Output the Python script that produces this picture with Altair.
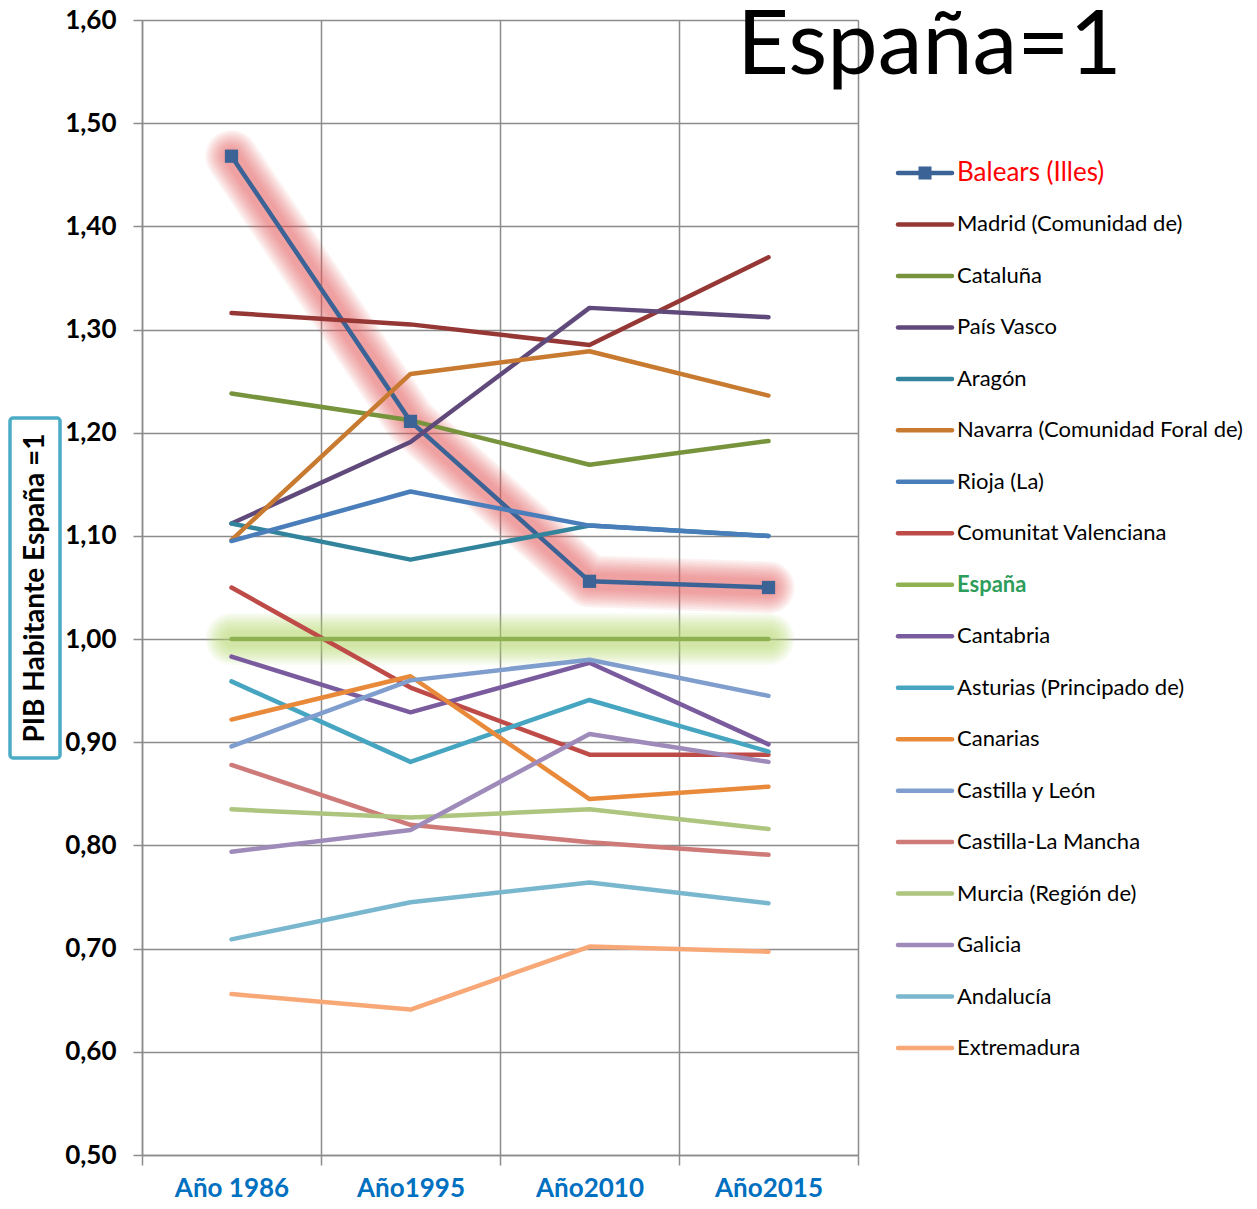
import altair as alt
import pandas as pd

years = ["Año 1986", "Año1995", "Año2010", "Año2015"]
regions = [
    "Balears (Illes)", "Madrid (Comunidad de)", "Cataluña", "País Vasco", "Aragón",
    "Navarra (Comunidad Foral de)", "Rioja (La)", "Comunitat Valenciana", "España",
    "Cantabria", "Asturias (Principado de)", "Canarias", "Castilla y León",
    "Castilla-La Mancha", "Murcia (Región de)", "Galicia", "Andalucía", "Extremadura",
]
colors = [
    "#3B6396", "#953735", "#77933C", "#5F4A7B", "#31849B",
    "#C77A30", "#4A7EBB", "#BE4B48", "#8FB152",
    "#7A5C9E", "#46A5C1", "#E98A3B", "#7F9ECD",
    "#CD7A78", "#ADC57E", "#9E8BBA", "#79B7CF", "#F8A877",
]

balears = [1.468, 1.211, 1.056, 1.050]
madrid = [1.316, 1.305, 1.285, 1.370]
cataluna = [1.238, 1.212, 1.169, 1.192]
pais_vasco = [1.112, 1.191, 1.321, 1.312]
aragon = [1.112, 1.077, 1.110, 1.100]
navarra = [1.096, 1.257, 1.279, 1.236]
rioja = [1.095, 1.143, 1.110, 1.100]
valenciana = [1.050, 0.953, 0.888, 0.888]
espana = [1.000, 1.000, 1.000, 1.000]
cantabria = [0.983, 0.929, 0.977, 0.898]
asturias = [0.959, 0.881, 0.941, 0.891]
canarias = [0.922, 0.964, 0.845, 0.857]
castilla_leon = [0.896, 0.960, 0.980, 0.945]
castilla_mancha = [0.878, 0.820, 0.803, 0.791]
murcia = [0.835, 0.827, 0.835, 0.816]
galicia = [0.794, 0.815, 0.908, 0.881]
andalucia = [0.709, 0.745, 0.764, 0.744]
extremadura = [0.656, 0.641, 0.702, 0.697]

series = [balears, madrid, cataluna, pais_vasco, aragon, navarra, rioja, valenciana,
          espana, cantabria, asturias, canarias, castilla_leon, castilla_mancha,
          murcia, galicia, andalucia, extremadura]

y_ticks = [0.5, 0.6, 0.7, 0.8, 0.9, 1.0, 1.1, 1.2, 1.3, 1.4, 1.5, 1.6]

rows = []
for r, vals in zip(regions, series):
    for i, (yr, v) in enumerate(zip(years, vals)):
        rows.append({"region": r, "year": yr, "idx": i, "value": v})
df = pd.DataFrame(rows)
leg_df = pd.DataFrame({"region": regions})

FONT = "Lato"
GRID = "#8C8C8C"

x_enc = alt.X(
    "year:N", sort=years,
    scale=alt.Scale(type="band", domain=years, paddingInner=0, paddingOuter=0),
    axis=alt.Axis(title=None, grid=True, tickBand="extent", labelAngle=0, labelFont=FONT,
                  labelFontWeight="bold", labelFontSize=26, labelColor="#0070C0",
                  labelPadding=10, tickSize=10, tickColor=GRID, domainColor=GRID,
                  gridColor=GRID, gridWidth=1.5, domainWidth=1.5, tickWidth=1.5),
)
y_scale = alt.Scale(domain=[0.5, 1.6], nice=False, zero=False)
y_enc = alt.Y(
    "value:Q", scale=y_scale,
    axis=alt.Axis(title=None, grid=True, values=y_ticks,
                  labelExpr="replace(format(datum.value, '.2f'), '.', ',')",
                  labelFont=FONT, labelFontWeight="bold", labelFontSize=26,
                  labelColor="black", labelPadding=17, tickSize=9, tickColor=GRID,
                  domainColor=GRID, gridColor=GRID, gridWidth=1.5, domainWidth=1.5,
                  tickWidth=1.5),
)
color_enc = alt.Color("region:N", scale=alt.Scale(domain=regions, range=colors), legend=None)

base = alt.Chart(df)

glows = []
for reg, col in [("Balears (Illes)", "#EB5858"), ("España", "#B3DE61")]:
    for w in [52, 48, 44, 40, 36, 32, 28, 24, 20, 16]:
        glows.append(
            base.transform_filter(alt.datum.region == reg)
            .mark_line(color=col, strokeWidth=w, opacity=0.08, strokeCap="round", strokeJoin="round")
            .encode(x=x_enc, y=y_enc, order="idx:Q")
        )

lines = base.mark_line(strokeWidth=4.5, strokeCap="round", strokeJoin="round").encode(
    x=x_enc, y=y_enc, color=color_enc, detail="region:N", order="idx:Q"
)
squares = base.transform_filter(alt.datum.region == "Balears (Illes)").mark_square(
    size=175, opacity=1, color="#3B6396"
).encode(x=x_enc, y=y_enc)

title_txt = alt.Chart(pd.DataFrame({"t": ["España=1"]})).mark_text(
    font=FONT, fontSize=90, align="left", baseline="alphabetic", color="black"
).encode(x=alt.value(595), y=alt.value(54), text="t:N")

ybox = alt.Chart(pd.DataFrame({"t": ["PIB Habitante España =1"]})).mark_rect(
    fillOpacity=0, stroke="#4BACC6", strokeWidth=3.5, cornerRadius=3
).encode(x=alt.value(-132), x2=alt.value(-82), y=alt.value(398), y2=alt.value(738))
ytitle = alt.Chart(pd.DataFrame({"t": ["PIB Habitante España =1"]})).mark_text(
    font=FONT, fontWeight="bold", fontSize=28, angle=270, align="center", baseline="middle",
    color="black"
).encode(x=alt.value(-106), y=alt.value(568), text="t:N")

main = alt.layer(*glows, lines, squares, title_txt, ybox, ytitle)

leg_y = alt.Y("region:N", sort=regions,
              scale=alt.Scale(type="point", domain=regions, range=[153, 1028], padding=0),
              axis=None)
lb = alt.Chart(leg_df)
leg_rules = lb.mark_rule(strokeWidth=4.5, strokeCap="round").encode(
    x=alt.value(756), x2=alt.value(810), y=leg_y, color=color_enc
)
leg_sq = lb.transform_filter(alt.datum.region == "Balears (Illes)").mark_square(
    size=170, opacity=1, color="#3B6396"
).encode(x=alt.value(783), y=leg_y)
leg_txt = lb.transform_filter(
    (alt.datum.region != "Balears (Illes)") & (alt.datum.region != "España")
).mark_text(font=FONT, fontSize=22, align="left", baseline="middle", color="black").encode(
    x=alt.value(815), y=leg_y, text="region:N"
)
leg_bal = lb.transform_filter(alt.datum.region == "Balears (Illes)").mark_text(
    font=FONT, fontSize=26, align="left", baseline="middle", color="#FF0000"
).encode(x=alt.value(815), y=leg_y, text="region:N")
leg_esp = lb.transform_filter(alt.datum.region == "España").mark_text(
    font=FONT, fontSize=22, fontWeight="bold", align="left", baseline="middle", color="#2E9D5B"
).encode(x=alt.value(815), y=leg_y, text="region:N")

legend = alt.layer(leg_rules, leg_sq, leg_txt, leg_bal, leg_esp)

chart = alt.layer(main, legend).resolve_scale(y="independent").properties(
    width=716, height=1135,
    autosize=alt.AutoSizeParams(type="none"),
    padding={"left": 134, "top": 12, "right": 391, "bottom": 46},
).configure_view(stroke=GRID, strokeWidth=1.5).configure(background="white")

chart.save("out.html", embed_options={"renderer": "svg", "actions": False})
